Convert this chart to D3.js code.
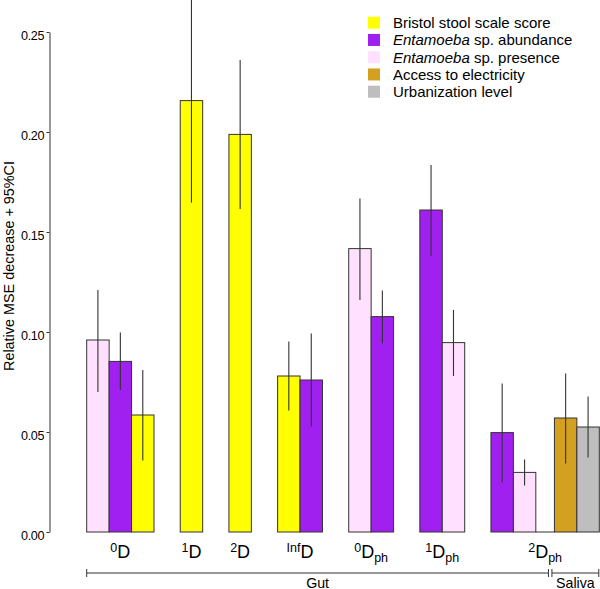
<!DOCTYPE html>
<html lang="en">
<head>
   <meta charset="UTF-8">
   <title>Relative MSE decrease</title>
   <script src="https://d3js.org/d3.v7.min.js"></script>
   <style>
       body {
           margin: 0;
           background: #fff;
       }
       svg text {
           font-family: "Liberation Sans", Arial, Helvetica, sans-serif;
           fill: #000;
       }
   </style>
</head>
<body>
   <div id="chart"></div>
   <script>
       // groups on the x axis (label = superscript + "D" + subscript)
       const groupSup = ["0", "1", "2", "Inf", "0", "1", "2"];
       const groupSub = ["", "", "", "", "ph", "ph", "ph"];

       // legend / series
       const seriesNames = ["Bristol stool scale score", "Entamoeba sp. abundance", "Entamoeba sp. presence", "Access to electricity", "Urbanization level"];
       const seriesItalic = ["", "Entamoeba", "Entamoeba", "", ""];
       const seriesColors = ["#ffff00", "#a020f0", "#ffe1ff", "#d4a020", "#bebebe"];

       // one entry per bar
       const barGroup  = [0, 0, 0, 1, 2, 3, 3, 4, 4, 5, 5, 6, 6, 6, 6];
       const barSeries = [2, 1, 0, 0, 0, 0, 1, 2, 1, 1, 2, 1, 2, 3, 4];
       const barTissue = ["Gut", "Gut", "Gut", "Gut", "Gut", "Gut", "Gut", "Gut", "Gut", "Gut", "Gut", "Gut", "Gut", "Saliva", "Saliva"];
       const barValue  = [0.096, 0.0853, 0.0585, 0.2157, 0.1988, 0.078, 0.076, 0.1417, 0.1077, 0.161, 0.0947, 0.0497, 0.0298, 0.057, 0.0525];
       const barLow    = [0.070, 0.071, 0.0357, 0.1647, 0.1615, 0.0607, 0.0527, 0.116, 0.0943, 0.138, 0.078, 0.0247, 0.0233, 0.0343, 0.0373];
       const barHigh   = [0.121, 0.0997, 0.081, 0.27, 0.236, 0.0953, 0.0993, 0.1668, 0.1207, 0.1835, 0.111, 0.0743, 0.0363, 0.0793, 0.0677];

       const yTicks = [0, 0.05, 0.10, 0.15, 0.20, 0.25];

       const width = 600;
       const height = 589;
       const groupGap = 1.17;   // in bar widths
       const tissueGap = 0.83;

       // slot position of each bar (bar width = 1)
       const bars = [];
       let pos = 0;
       barValue.forEach((v, i) => {
           if (i > 0) {
               if (barGroup[i] !== barGroup[i - 1]) pos += groupGap;
               else if (barTissue[i] !== barTissue[i - 1]) pos += tissueGap;
           }
           bars.push({ i: i, x0: pos, value: v, low: barLow[i], high: barHigh[i], series: barSeries[i], group: barGroup[i], tissue: barTissue[i] });
           pos += 1;
       });
       const totalSlots = pos;

       const x = d3.scaleLinear().domain([0, totalSlots]).range([86.7, 599.3]);
       const y = d3.scaleLinear().domain([0, 0.25]).range([532, 32]);

       const svg = d3.select("#chart").append("svg")
           .attr("width", width)
           .attr("height", height);

       // bars
       svg.append("g")
           .selectAll("rect")
           .data(bars)
           .enter().append("rect")
           .attr("x", d => x(d.x0))
           .attr("y", d => y(d.value))
           .attr("width", d => x(d.x0 + 1) - x(d.x0))
           .attr("height", d => y(0) - y(d.value))
           .attr("fill", d => seriesColors[d.series])
           .attr("stroke", "#333")
           .attr("stroke-width", 1);

       // baseline through the empty slot between gut and saliva bars
       bars.forEach((d, k) => {
           if (k > 0 && d.group === bars[k - 1].group && d.tissue !== bars[k - 1].tissue) {
               svg.append("line")
                   .attr("x1", x(bars[k - 1].x0 + 1)).attr("x2", x(d.x0))
                   .attr("y1", y(0)).attr("y2", y(0))
                   .attr("stroke", "#333");
           }
       });

       // 95% CI
       svg.append("g")
           .selectAll("line")
           .data(bars)
           .enter().append("line")
           .attr("x1", d => x(d.x0 + 0.5))
           .attr("x2", d => x(d.x0 + 0.5))
           .attr("y1", d => y(d.low))
           .attr("y2", d => y(d.high))
           .attr("stroke", "#333")
           .attr("stroke-width", 1.1);

       // y axis
       const yAxis = svg.append("g")
           .attr("transform", "translate(49.5,0)")
           .call(d3.axisLeft(y).tickValues(yTicks).tickFormat(d3.format(".2f")).tickSize(3).tickSizeOuter(0).tickPadding(2.5));
       yAxis.attr("font-size", null).attr("font-family", null);
       yAxis.selectAll("path, line").attr("stroke", "#333");
       yAxis.selectAll("text")
           .attr("font-size", "12.6px")
           .attr("letter-spacing", "-0.4px")
           .attr("dy", "0.6em");

       svg.append("text")
           .attr("transform", "translate(14," + ((y(0) + 0) / 2) + ") rotate(-90)")
           .attr("text-anchor", "middle")
           .attr("font-size", "14.4px")
           .text("Relative MSE decrease + 95%CI");

       // x group labels
       const groupIdx = d3.range(groupSup.length);
       const groupCenter = g => {
           const gb = bars.filter(b => b.group === g);
           return x((gb[0].x0 + gb[gb.length - 1].x0 + 1) / 2);
       };
       const labels = svg.append("g")
           .selectAll("text")
           .data(groupIdx)
           .enter().append("text")
           .attr("x", g => groupCenter(g))
           .attr("y", 558)
           .attr("text-anchor", "middle");
       labels.append("tspan").attr("font-size", "12.5px").attr("dy", -6.5).text(g => groupSup[g]);
       labels.append("tspan").attr("font-size", "18px").attr("dy", 6.5).text("D");
       labels.filter(g => groupSub[g] !== "").append("tspan")
           .attr("font-size", "12.5px").attr("dy", 4).text(g => groupSub[g]);

       // tissue brackets, split in the gap before the saliva bars
       const tissues = ["Gut", "Saliva"];
       const bracketY = 573;
       const splitX = x(bars.filter(b => b.tissue === "Saliva")[0].x0);
       tissues.forEach((t, k) => {
           const tb = bars.filter(b => b.tissue === t);
           const xa = k === 0 ? x(tb[0].x0) : splitX - 2.5;
           const xb = k === 0 ? splitX - 6 : x(tb[tb.length - 1].x0 + 1) - 0.5;
           const g = svg.append("g").attr("stroke", "#333");
           g.append("line").attr("x1", xa).attr("x2", xb).attr("y1", bracketY).attr("y2", bracketY);
           g.append("line").attr("x1", xa).attr("x2", xa).attr("y1", bracketY - 4).attr("y2", bracketY + 4);
           g.append("line").attr("x1", xb).attr("x2", xb).attr("y1", bracketY - 4).attr("y2", bracketY + 4);
           svg.append("text")
               .attr("x", (xa + xb) / 2)
               .attr("y", 587.5)
               .attr("text-anchor", "middle")
               .attr("font-size", "14.2px")
               .text(t);
       });

       // legend
       const legend = svg.append("g")
           .selectAll("g")
           .data(seriesNames)
           .enter().append("g")
           .attr("transform", (d, i) => "translate(368," + (22.7 + i * 17.25) + ")");
       legend.append("rect")
           .attr("x", 0).attr("y", -6)
           .attr("width", 12).attr("height", 12)
           .attr("fill", (d, i) => seriesColors[i]);
       const legendText = legend.append("text")
           .attr("x", 25)
           .attr("y", 5.3)
           .attr("font-size", "15px");
       legendText.each(function(d, i) {
           const t = d3.select(this);
           if (seriesItalic[i]) {
               t.append("tspan").attr("font-style", "italic").text(seriesItalic[i]);
               t.append("tspan").text(d.slice(seriesItalic[i].length));
           } else {
               t.text(d);
           }
       });
   </script>
</body>
</html>
